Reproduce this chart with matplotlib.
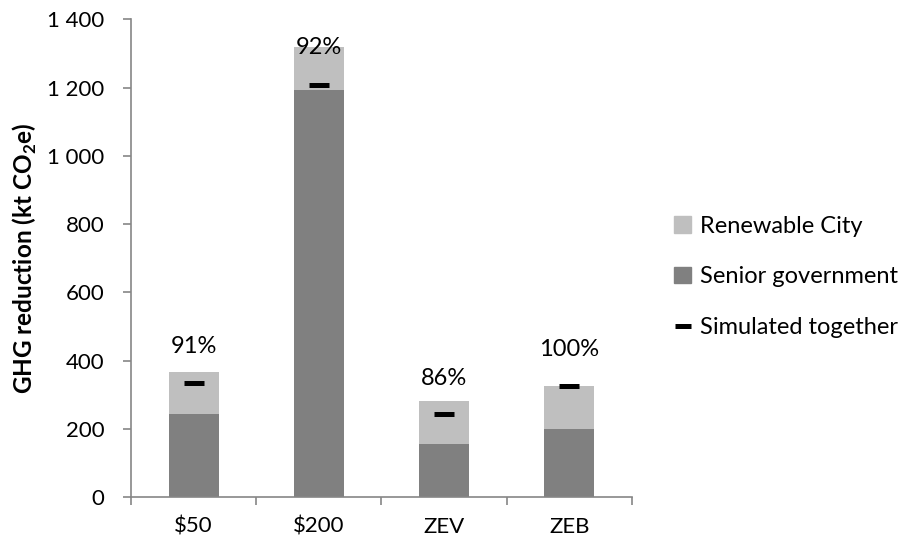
import matplotlib.pyplot as plt
from matplotlib.patches import Patch
from matplotlib.lines import Line2D
import numpy as np

plt.rcParams['font.family'] = ['Lato', 'DejaVu Sans']

scenarios = ['$50', '$200', 'ZEV', 'ZEB']
senior_gov = [245, 1193, 157, 200]
renewable_city = [123, 125, 126, 127]
together = [335, 1208, 244, 327]
label_y = [443, 1316, 349, 433]

light = '#bfbfbf'
dark = '#808080'
axis_grey = '#868686'

totals = np.array(senior_gov) + np.array(renewable_city)
pct = np.array(together) / totals * 100

fig = plt.figure(figsize=(9.07, 5.43), dpi=100)
ax = fig.add_axes([0.1444, 0.0842, 0.5524, 0.8803])

x = np.arange(len(scenarios))
ax.bar(x, senior_gov, width=0.4, color=dark)
ax.bar(x, renewable_city, width=0.4, bottom=senior_gov, color=light)
ax.plot(x, together, linestyle='none', marker='_', markersize=15,
        markeredgewidth=3.6, color='black')

for xi, p, ly in zip(x, pct, label_y):
    ax.text(xi, ly, f'{p:.0f}%', ha='center', va='center', fontsize=17)

ax.set_xlim(-0.5, 3.5)
ax.set_ylim(0, 1400)
ax.set_yticks(range(0, 1401, 200))
ax.set_yticklabels([f'{v:,}'.replace(',', ' ') for v in range(0, 1401, 200)])

# boundaries get tick marks, category names sit between them
ax.set_xticks(np.arange(-0.5, 4, 1))
ax.set_xticklabels([])
ax.set_xticks(x, minor=True)
ax.set_xticklabels(scenarios, minor=True)
ax.tick_params(axis='x', which='minor', length=0, pad=14, labelsize=16)
ax.tick_params(axis='x', which='major', length=6, width=1.2, color=axis_grey)
ax.tick_params(axis='y', length=6, width=1.2, color=axis_grey, pad=13, labelsize=16)

for side in ['top', 'right']:
    ax.spines[side].set_visible(False)
for side in ['left', 'bottom']:
    ax.spines[side].set_color(axis_grey)
    ax.spines[side].set_linewidth(1.2)

ax.set_ylabel('GHG reduction (kt CO$_\\mathregular{2}$e)', fontsize=17.5,
              fontweight='bold', labelpad=6)

handles = [Patch(color=light), Patch(color=dark),
           Line2D([], [], color='black', marker='_', linestyle='none',
                  markersize=12, markeredgewidth=3.6)]
fig.legend(handles, ['Renewable City', 'Senior government', 'Simulated together'],
           loc='center left', bbox_to_anchor=(0.72, 0.49), frameon=False,
           fontsize=17, handlelength=0.7, handleheight=0.7, handletextpad=0.4,
           labelspacing=1.25)

fig.savefig('out.png', dpi=100)
